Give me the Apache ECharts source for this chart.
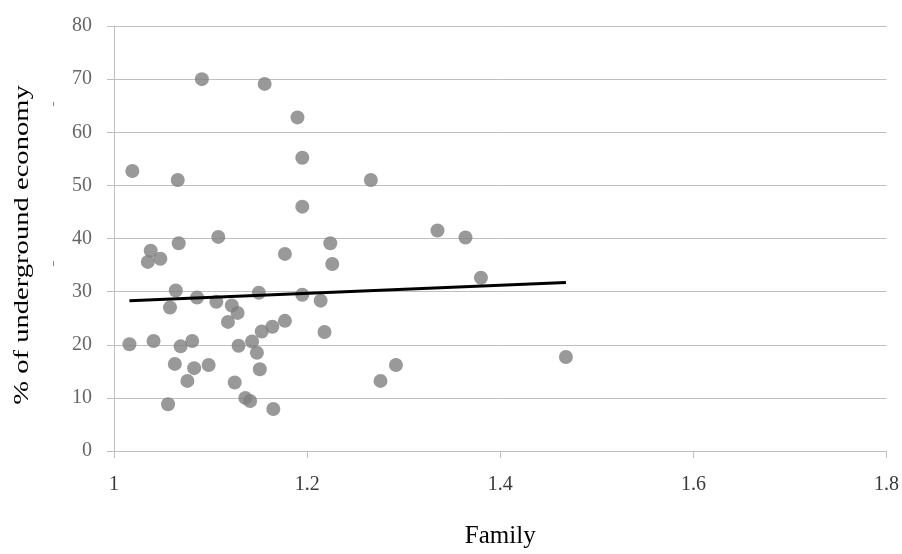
<!DOCTYPE html>
<html>
<head>
<meta charset="utf-8">
<script src="https://cdn.jsdelivr.net/npm/echarts@6/dist/echarts.min.js"></script>
<style>
html,body{margin:0;padding:0;background:#fff;}
#chart{width:902px;height:554px;}
</style>
</head>
<body>
<div id="chart"></div>
<script>
// Data
var familyX = [1.019,1.066,1.091,1.156,1.190,1.195,1.195,1.266,1.038,1.035,1.048,1.067,1.108,1.177,1.224,1.226,1.335,1.364,1.380,1.064,1.086,1.058,1.106,1.150,1.195,1.214,1.122,1.128,1.118,1.177,1.164,1.153,1.218,1.016,1.041,1.069,1.081,1.129,1.143,1.148,1.063,1.083,1.098,1.151,1.076,1.125,1.136,1.141,1.056,1.165,1.276,1.292,1.468];
var undergroundY = [52.7,51.0,70.0,69.1,62.8,55.2,46.0,51.0,37.7,35.6,36.2,39.1,40.3,37.1,39.1,35.2,41.5,40.2,32.6,30.2,28.9,27.0,28.1,29.8,29.4,28.3,27.4,26.0,24.3,24.5,23.4,22.5,22.4,20.1,20.7,19.7,20.7,19.8,20.6,18.5,16.4,15.6,16.2,15.4,13.2,12.9,10.0,9.4,8.8,7.9,13.2,16.2,17.7];
var trendX = [1.016, 1.468];
var trendY = [28.3, 31.7];
var xTicks = ['1','1.2','1.4','1.6','1.8'];
var yTicks = ['0','10','20','30','40','50','60','70','80'];
var xTitle = 'Family';
var yTitle = '% of underground economy';

var points = familyX.map(function(x,i){return [x, undergroundY[i]];});
var trend = trendX.map(function(x,i){return [x, trendY[i]];});

var chart = echarts.init(document.getElementById('chart'), null, {renderer:'canvas'});
var serif = '"Liberation Serif", "Times New Roman", serif';
chart.setOption({
  backgroundColor:'#ffffff',
  animation:false,
  grid:{left:114, right:14, top:26, bottom:101, containLabel:false},
  xAxis:{
    type:'value', min:1, max:1.8, interval:0.2,
    name:xTitle, nameLocation:'middle', nameGap:73,
    nameTextStyle:{fontFamily:serif, fontSize:25, color:'#000'},
    axisLine:{show:true, onZero:false, lineStyle:{color:'#bfbfbf', width:1}},
    axisTick:{show:true, inside:false, length:7, lineStyle:{color:'#bfbfbf'}},
    axisLabel:{margin:24, fontFamily:serif, fontSize:20, color:'#3a3a3a',
      formatter:function(v){var s=String(Math.round(v*10)/10); return xTicks.indexOf(s)>=0?s:'';}},
    splitLine:{show:false}
  },
  yAxis:{
    type:'value', min:0, max:80, interval:10,
    axisLine:{show:true, lineStyle:{color:'#bfbfbf', width:1}},
    axisTick:{show:true, inside:false, length:7, lineStyle:{color:'#bfbfbf'}},
    axisLabel:{margin:22, fontFamily:serif, fontSize:20, color:'#666',
      formatter:function(v){var s=String(v); return yTicks.indexOf(s)>=0?s:'';}},
    splitLine:{show:true, lineStyle:{color:'#bfbfbf', width:1}}
  },
  series:[
    {type:'scatter', data:points, symbol:'circle', symbolSize:14,
     itemStyle:{color:'#7f7f7f'}, z:2},
    {type:'line', data:trend, symbol:'none', lineStyle:{color:'#000', width:3}, z:3}
  ],
  graphic:[
    {type:'text', x:22, y:245, rotation:Math.PI/2, scaleX:1.3, scaleY:1,
     style:{text:yTitle, font:'22px ' + serif, fill:'#000', textAlign:'center', textVerticalAlign:'middle'}},
    {type:'line', shape:{x1:53.5, y1:102, x2:53.5, y2:106}, style:{stroke:'#888', lineWidth:1}},
    {type:'line', shape:{x1:53.5, y1:261, x2:53.5, y2:266}, style:{stroke:'#888', lineWidth:1}}
  ]
});
</script>
</body>
</html>
